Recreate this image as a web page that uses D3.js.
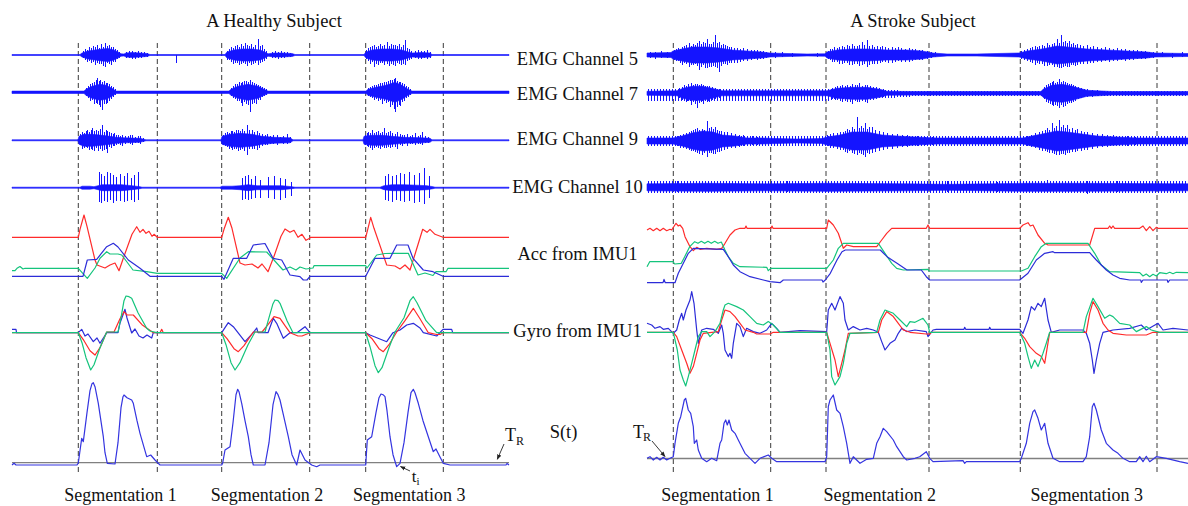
<!DOCTYPE html>
<html><head><meta charset="utf-8">
<script src="https://cdn.jsdelivr.net/npm/d3@7"></script>
<style>
body{margin:0;background:#fff;}
svg{display:block;}
text{font-family:"Liberation Serif","Times New Roman",serif;fill:#111;}
</style>
</head><body>
<svg id="c" width="1188" height="506"></svg>
<script>
// ---------------- DATA (x in samples, y in signal units) ----------------
const titles = ["A Healthy Subject", "A Stroke Subject"];
const channelLabels = ["EMG Channel 5","EMG Channel 7","EMG Channel 9","EMG Channel 10","Acc from IMU1","Gyro from IMU1","S(t)"];
const segLabels = ["Segmentation 1","Segmentation 2","Segmentation 3"];

const leftBounds  = [66.3,145.3,209.7,297.7,353.7,431.3];
const rightBounds = [26.3,123.7,179,282,373.3,510];
const leftSegCenters  = [108.5,255,397.3];
const rightSegCenters = [70.5,232.8,439.7];

// EMG envelopes: [sample, half-amplitude]; spikes: [sample, up, down]; halo: [sample, up, down]
const leftEmg5  = [[0,0.5],[68,0.5],[70,2],[76,4],[83,5],[90,6],[96,6.5],[102,5],[106,3],[109,1.2],[112,1],[114,2],[120,2.5],[128,2],[135,1.5],[138,0.5],[213,0.5],[215,3],[222,5],[230,6],[240,6],[248,5],[253,3],[256,1.2],[262,2],[270,2],[280,1.5],[283,0.5],[352,0.5],[354,3],[360,5],[370,6],[380,6],[390,5],[396,3],[400,2],[410,2.5],[418,2],[420,0.5],[497,0.5]];
const leftEmg5Sp = [[71,4,3],[73,6,5],[75,5,7],[77,8,6],[79,7,8],[81,9,7],[83,8,10],[85,10,8],[87,7,9],[89,11,9],[91,8,11],[93,12,12],[95,9,8],[97,10,9],[99,8,10],[101,8,7],[103,6,7],[105,5,4],[107,3,3],[114,3,3],[117,4,3],[120,4,4],[123,3,4],[126,4,3],[129,3,3],[132,3,2],[135,2,2],[164.7,0,7.7],[215,4,5],[217,6,5],[219,8,7],[221,7,9],[223,9,8],[225,10,8],[227,8,10],[229,11,9],[231,9,8],[233,12,9],[235,10,11],[237,9,8],[239,11,10],[241,8,9],[243,10,8],[246,15.7,10],[248,9,8],[250,10,7],[252,6,6],[254,4,4],[260,3,3],[263,4,3],[266,3,4],[269,4,3],[272,3,3],[275,3,2],[278,2,2],[354,5,4],[356,7,6],[358,8,9],[360,9,7],[362,10,12],[364,8,9],[366,9,10],[368,11,8],[370,9,8],[372,10,10],[375,13,9],[377,9,11],[379,11,9],[381,10,10],[383,10,11],[385,9,8],[387,11,9],[389,8,10],[391,10,9],[393,15,10],[395,7,6],[397,6,5],[399,4,4],[403,4,3],[406,5,4],[409,4,4],[412,4,3],[415,5,4],[418,3,3]];
const leftEmg7  = [[0,1.2],[72,1.2],[74,3],[80,6],[88,8],[94,7],[100,4],[104,1.2],[217,1.2],[219,3],[226,6],[236,8],[246,6],[252,3],[256,1.2],[354,1.2],[356,3],[364,5],[374,7],[383,10],[390,7],[396,3],[400,1.2],[497,1.2]];
const leftEmg7Sp = [[74,4,4],[76,6,6],[78,8,9],[80,9,8],[82,10,12],[84,12,11],[85,14,12],[87,11,13],[88,12,15],[90,10,17.7],[92,11,12],[94,9,12],[95,9,11],[97,8,9],[99,6,7],[101,5,5],[103,3,3],[219,4,4],[221,6,6],[223,8,7],[225,8,9],[227,10,9],[229,9,11],[230,10,14],[232,11,10],[234,11,12],[236,10,13],[238,12,19.4],[240,10,12],[242,9,11],[244,8,12],[246,7,8],[248,6,8],[250,5,5],[252,4,4],[254,3,3],[356,4,4],[358,5,5],[360,6,6],[362,7,8],[364,7,7],[366,8,9],[368,9,8],[370,9,12],[372,10,9],[374,10,11],[376,11,10],[378,12,15],[380,12,13],[382,13,17],[383,14,19.4],[385,11,15],[387,10,13],[388,10,14],[390,9,10],[392,8,9],[394,6,6],[396,5,5],[398,3,3]];
const leftEmg9  = [[0,0.5],[66,0.5],[67,4],[72,6],[80,6],[90,5],[98,4],[104,3],[112,2.5],[128,2],[134,0.5],[209,0.5],[210,4],[218,6],[228,7],[240,6],[250,4],[262,3],[278,2.5],[281,0.5],[351,0.5],[352,4],[360,5],[370,5],[380,4],[392,3],[410,2.5],[418,2],[420,0.5],[497,0.5]];
const leftEmg9Sp = [[68,6,5],[70,8,9],[72,7,8],[74,9,7],[75,10,8],[77,8,10],[79,10,9],[80,12,10],[82,9,11],[84,10,8],[86,9,11],[88,11,9],[90,15.3,11],[92,8,10],[94,10,9],[95,9,13],[97,8,7],[99,7,8],[101,6,6],[102,7,6],[104,5,5],[106,5,4],[108,4,5],[110,5,6],[113,4,4],[116,4,3],[118,5,4],[120,5,5],[123,3,3],[126,4,3],[128,4,4],[131,2,2],[211,5,5],[213,7,6],[215,8,7],[217,7,9],[219,9,8],[220,9,10],[222,8,9],[224,10,9],[226,10,11],[228,9,10],[230,11,9],[232,9,11],[235,15.3,14.7],[237,10,9],[240,10,9],[242,8,9],[245,9,10],[247,7,8],[250,6,6],[253,5,5],[255,6,5],[258,4,4],[261,5,4],[265,5,5],[268,3,3],[271,4,4],[275,6,4],[278,3,3],[353,5,5],[355,7,6],[356,8,7],[358,7,8],[360,10,10],[362,7,8],[364,8,7],[366,9,8],[368,7,9],[370,8,7],[372,12,8],[374,7,8],[376,8,7],[378,9,8],[380,7,7],[383,6,7],[385,8,9],[388,6,5],[390,5,6],[392,5,4],[395,6,6],[398,4,4],[400,5,4],[403,7,5],[406,4,4],[408,5,4],[410,8,5],[413,4,3],[416,3,3]];
const leftEmg10 = [[0,0.5],[68,0.5],[70,1.5],[78,1.5],[82,1],[86,2],[90,3],[100,3],[110,3],[120,2],[128,1],[130,0.5],[208,0.5],[210,1.5],[220,1.5],[228,2],[236,3],[245,2],[255,2],[270,2],[280,1],[283,0.5],[368,0.5],[372,2],[380,3],[392,3],[405,2.5],[415,2],[421,1],[423,0.5],[497,0.5]];
const leftEmg10Sp = [[87,16,14],[89,14,15],[92,12,13],[95,16,14],[98,15,12],[101,13,15],[104,11,13],[108,14,13],[112,12,14],[115,15,13],[119,10,12],[122,13,14],[126,16,12],[230,10,12],[233,12,11],[236,13,12],[239,9,11],[243,12,10],[248,8,10],[256,11,10],[262,12,11],[268,10,12],[273,9,10],[279,6,8],[373,12,12],[376,14,13],[380,12,14],[384,13,12],[388,15,13],[392,14,14],[397,16,13],[402,13,15],[407,15,14],[412,20,16],[417,12,10]];

const rightEmg5  = [[0,2],[24,2.5],[26,4],[35,6],[45,8],[60,8],[72,7],[85,5],[100,4],[115,3],[123,2],[140,1.5],[160,1],[178,1.2],[180,3],[190,5],[205,6],[220,6],[240,5],[260,5],[275,4],[286,2],[300,1],[330,1],[350,1.5],[372,2],[380,4],[395,6],[410,9],[420,8],[440,6],[460,5],[480,4],[500,3],[508,2],[541,1.5]];
const rightEmg5Sp = [[3,3,3],[8,3,4],[14,4,3],[20,3,3],[27,5,5],[29,6,6],[31,7,6],[33,6,8],[35,8,10],[37,9,8],[39,10,9],[42,12,12],[44,9,10],[46,11,10],[48,10,9],[50,12,11],[52,14,15],[54,11,12],[56,13,10],[58,12,13],[60,16,13],[62,11,12],[64,11,12],[66,13,11],[68,20,12],[70,12,13],[72,13,16.7],[74,10,11],[76,11,9],[78,10,9],[80,9,10],[82,8,8],[84,8,8],[87,7,8],[90,7,8],[93,6,7],[96,7,6],[100,6,6],[104,5,5],[107,5,4],[110,5,5],[113,4,4],[116,4,4],[119,3,3],[128,3,3],[135,3,2],[145,2,2],[170,2,2],[181,4,4],[183,6,5],[185,6,7],[187,8,7],[190,7,7],[192,8,9],[195,9,9],[197,8,8],[200,10,8],[202,9,10],[205,11,10],[207,9,9],[210,9,9],[212,10,11],[215,13,10],[217,10,9],[220,15,11.7],[222,9,10],[225,10,9],[227,8,9],[230,9,9],[233,8,8],[235,9,7],[238,8,7],[241,7,8],[245,8,8],[248,7,7],[251,8,6],[254,7,7],[258,6,7],[262,7,7],[265,6,6],[268,6,5],[272,5,5],[275,5,5],[280,4,4],[284,3,3],[288,3,2],[374,4,4],[377,5,5],[380,6,6],[383,7,7],[385,8,8],[388,9,10],[390,8,8],[392,9,9],[395,10,9],[397,9,11],[400,12,11],[402,10,10],[405,11,10],[407,12,12],[410,16,12],[412,12,13],[414,20,13.3],[416,13,12],[418,14,11],[420,12,12],[422,14,12],[424,11,10],[426,12,10],[428,10,11],[430,11,10],[433,10,9],[436,9,9],[440,10,9],[443,8,8],[446,9,8],[450,8,7],[454,7,7],[458,8,6],[462,7,7],[466,6,6],[470,7,6],[474,6,5],[478,6,6],[482,5,5],[486,5,5],[490,5,4],[494,4,4],[498,4,4],[502,3,3],[506,3,3],[515,3,2],[525,2,3],[535,3,2]];
const rightEmg7  = [[0,2],[30,2.5],[36,5],[45,7],[55,7],[65,5],[75,2.5],[180,2.5],[190,5],[205,6],[220,6],[233,4],[240,2],[266,1.8],[394,1.8],[396,4],[405,8],[415,9],[425,7],[440,3],[465,1.8],[541,1.8]];
const rightEmg7Halo = [[0,4,8],[180,4,8],[186,4,6],[240,3,5],[266,2.5,3],[541,2.5,3]];
const rightEmg7Sp = [[32,5,5],[35,6,7],[37,8,8],[39,7,9],[41,9,8],[44,10,12],[46,8,9],[48,9,11],[50,9,15],[52,8,10],[54,9,9],[56,8,11],[58,7,8],[60,7,9],[62,7,9],[65,6,7],[68,5,6],[72,4,5],[185,5,6],[188,6,7],[190,7,7],[193,7,8],[195,8,9],[198,7,8],[200,8,9],[203,7,9],[205,9,11],[208,8,8],[210,8,9],[212,10,9],[215,7,8],[218,8,9],[220,8,10],[223,7,7],[226,6,7],[229,6,6],[232,5,5],[236,4,4],[397,6,6],[399,8,9],[401,9,10],[403,10,11],[405,11,12],[406,12,13],[408,10,12],[410,11,13],[412,14,15],[414,11,12],[416,12,14],[418,11,13],[420,10,11],[422,9,10],[424,9,10],[426,8,9],[428,7,8],[431,6,6],[434,5,5],[437,4,4],[440,4,4],[445,3,4],[450,3,3]];
const rightEmg9  = [[0,3],[26,3],[35,5],[45,8],[56,10],[66,9],[75,6],[88,5],[100,3],[115,3],[130,2.5],[150,2],[175,2.5],[180,4],[193,6],[205,9],[220,9],[235,6],[250,5],[268,4],[290,3],[376,3],[385,5],[400,8],[410,10],[420,9],[435,7],[450,5],[470,4],[490,3],[541,3]];
const rightEmg9Halo = [[0,5,5],[541,5,5]];
const rightEmg9Sp = [[30,5,5],[33,6,7],[36,7,7],[39,8,8],[42,9,9],[44,10,10],[46,11,10],[48,12,11],[50,13,12],[52,11,13],[55,12,14],[57,11,12],[60,20,15.7],[62,13,12],[64,14,12],[66,12,13],[68,14,13],[70,11,11],[72,10,11],[74,10,10],[77,9,9],[80,9,8],[84,8,7],[88,7,7],[92,6,6],[96,6,5],[100,5,5],[105,5,4],[110,4,4],[180,6,5],[183,7,7],[186,8,7],[190,8,8],[193,9,9],[196,9,9],[198,10,11],[200,12,12],[202,11,10],[205,14,12],[207,12,13],[210,24,14],[212,13,12],[214,15,13],[216,13,14],[218,18,15.7],[220,12,12],[222,14,13],[225,14,12],[228,11,11],[232,10,10],[236,9,9],[240,8,8],[245,7,8],[250,7,7],[255,6,6],[260,6,6],[265,5,5],[270,5,5],[278,4,4],[285,4,4],[380,5,5],[384,6,6],[388,8,7],[392,9,9],[395,10,10],[398,11,10],[400,13,11],[402,11,12],[405,18,12],[407,13,13],[409,15,14],[412,21,14],[414,14,13],[416,16,13],[418,13,14],[420,16,12],[422,12,12],[425,13,11],[428,11,11],[430,12,10],[434,10,10],[437,9,9],[440,9,9],[445,8,8],[450,7,7],[455,7,6],[460,6,6],[466,6,5],[472,5,5],[480,5,5],[488,4,4]];
const rightEmg10 = [[0,3.5],[60,4],[120,3.5],[180,4],[260,3.5],[300,3],[380,4],[430,4],[541,3.5]];
const rightEmg10Halo = [[0,6,6],[541,6,6]];
const rightEmg10Sp = [[30,6,5],[70,6,6],[100,6,6],[140,6,5],[160,6,5],[220,5,6],[250,6,6],[300,6,5],[350,5,5],[400,7,6],[440,6,7],[470,6,5],[520,5,6]];

// IMU accelerometer (3 axes) : [sample, value]
const leftAccRed = [[0,39],[66.3,39],[68,47],[72,61.3],[75,50],[83,16.3],[85,11.3],[93,8.3],[98,11.3],[103,13.3],[107,5.6],[112,20],[120,42],[124.7,49.6],[128,44],[131,47],[134,43],[137,45],[140,40],[142,42],[145.3,39],[209.7,39],[212,47],[216.3,59],[220,48],[228,13.3],[233,11.3],[240,12.3],[246,8.3],[250,12.3],[256,4.6],[262,20],[269,40],[273,47.3],[278,44],[282,46],[286,39],[290,42],[294,36],[297.7,38],[298,39],[353.7,39],[356,48],[358.7,59],[362,48],[374.7,11.3],[383,10.3],[388,7.3],[393,11.3],[398,6.3],[403,22],[410.7,47],[415,44],[418,47],[423,42],[431,39],[497,39]];
const leftAccGreen = [[0,5.6],[3,5.6],[5,8],[8,9.8],[11,7.3],[13,8],[66.3,8],[75.3,-2],[83,8.3],[88,18],[94.7,24.6],[98,22.3],[106,22.3],[109.7,21.3],[121,6.3],[134.7,4.6],[145.3,3],[209.7,3],[214.7,-2],[228,18.3],[236.3,24.6],[254.7,24.3],[271,6.3],[278,9.3],[284,6.3],[288,9.3],[294,7.3],[301,8.3],[302,10.6],[353.7,10.6],[355,8.3],[364.7,21.3],[373,22.8],[381,23],[396.3,23],[406,1.3],[413,3.3],[421,0.8],[424,4.6],[434,4.6],[436,8],[497,8]];
const leftAccBlue = [[0,0],[71,0],[75.3,16.3],[84.7,17],[94.7,29.6],[101.3,33],[106,29.3],[116.3,16.3],[128,8],[138,0],[209.7,0],[212,-3],[221.3,18],[234.7,18],[241.3,31.3],[253,32.8],[261,18],[269.7,16.3],[278,1.3],[288,-0.4],[291.3,-3.7],[295,-3.7],[298,0],[353.7,0],[363,18],[378,18],[384.7,31.3],[396,31.3],[401,18],[411.3,6.3],[421,4.6],[431,0],[497,0]];

const leftGyroRed = [[0,0],[66.3,0],[72,-8],[78,-18],[83,-22.3],[88,-15],[94.7,0.7],[102,0.7],[108,14],[112,21],[115,17.7],[121.3,17.7],[130,8],[141.3,0],[148,0],[149.7,3.4],[151.3,0],[209.7,0],[215,-6],[222,-16],[226.3,-19],[232,-13],[241.3,0.7],[250,0.7],[256,8],[262,16],[268,14.4],[273,7],[278,0],[286,-3.3],[290,-3.3],[298,0],[353.7,0],[360,-6],[367,-16],[371.3,-19],[377,-12],[384.7,0.7],[393,12],[401.3,24.4],[408,14],[416.3,0],[424.7,-1.8],[428,-1.8],[431,0],[497,0]];
const leftGyroGreen = [[0,0],[66.3,0],[70,-10],[74,-25],[78.7,-37.3],[82,-32],[88,-15],[94.7,0.7],[106,0.7],[109,15],[112,32],[114,36.7],[117,36],[119.7,34.4],[126,20],[134.7,4.4],[138,1.7],[144.7,0],[209.7,0],[214,-12],[219,-30],[223,-37.3],[228,-30],[236,-12],[243,0.7],[253,0.7],[257,15],[261,29],[263,32.7],[266,32],[268,29.4],[275,12],[281,0],[353.7,0],[358,-14],[363,-33],[366.3,-40],[370,-35],[377,-15],[383,0.7],[392,15],[398,32],[401.3,36],[405,30],[414,12],[424.7,0],[497,0]];
const leftGyroBlue = [[0,3.4],[4,3.4],[4.5,0],[66.3,0],[69.7,3.4],[73,-3.3],[76,-1.3],[81.3,-9],[85,-5.3],[88,-10.6],[94.7,0],[106,0],[108,9.7],[113,23.4],[115,14.7],[119.7,-0.3],[123,3.7],[127,-3.3],[131,-5.3],[135,-2.3],[139.7,-5.3],[141.3,0],[209.7,0],[216.3,10],[221.3,6],[233,-9],[241.3,0],[244.7,4.7],[246,0],[256,0],[261.3,14.4],[264.7,9.4],[271.3,-5.6],[278,0],[285,0],[293,6],[298,0],[353.7,0],[358,-2.3],[374.7,-9],[381,0],[388,2.7],[394.7,7.7],[401.3,9.4],[408,4.7],[411.3,0],[424.7,-3.3],[431,3.4],[439.7,3.4],[440.7,0],[497,0]];

const leftS = [[0,-2.3],[2,-0.6],[4,-2.3],[65,-2.3],[66.3,-0.3],[69.7,24.4],[71.3,21],[75,50],[78,72],[80,79],[81.3,80],[83,76],[86.3,59.4],[91.3,26],[93,10],[95.3,-0.6],[103,-1.3],[106,20],[109,55],[111,66],[112,67.7],[115,65],[119.7,62.7],[121.3,59.4],[125,42],[128,29.4],[134.7,6],[138.7,7.7],[143,2.7],[148,-2.3],[209.7,-2.3],[210.7,-0.3],[213,12.7],[218,16],[221,40],[224,68],[225.7,73.4],[227,71],[229.7,59.4],[233,42],[236.3,26],[239,8],[241.3,-2.3],[253,-2.3],[257,20],[261,58],[264,71],[266,68],[268,62.7],[272,45],[276.3,26],[280,8],[284.7,-2.3],[288,12.7],[293,2.7],[299.7,-2.3],[304.7,-4],[308,-2.3],[353.7,-2.3],[355.3,22.7],[359.7,26],[364,50],[367,65],[369,68.7],[371,68],[373,66],[375,52],[378,26],[381,8],[384.7,-4],[388,-0.6],[392,20],[396,50],[399,70],[401.3,73.4],[403,70],[406.3,59.4],[411,42],[416.3,26],[421.3,11],[424,13.7],[428,5.7],[431.3,-0.6],[438,-2.3],[494,-2.3],[495,-0.8],[497,-2.3]];

const rightAccRed = [[0,52.7],[3,54.4],[6.3,52],[9.7,54.4],[13,52],[16.3,54.4],[19.7,52],[23,53.4],[24.7,52.7],[29,59.4],[31.3,56.7],[33,57.7],[35.7,54.4],[38,46],[43,36],[46.3,32],[49.7,35.4],[53,33.4],[59.7,34.4],[69.7,33.4],[74.7,34.4],[78,39.4],[83,47.7],[88,52.7],[93,54.4],[98,54.4],[99,56.7],[100,54.4],[124,54.4],[125,56.7],[126,54.4],[179.7,54.4],[181.3,62.7],[186.3,57.7],[191.3,49.4],[194.7,39.4],[196.3,34.4],[199.7,37.7],[206.3,36],[229.7,36],[234.7,42.7],[239.7,49.4],[244.7,54.4],[279.3,54.4],[281,57.7],[282.7,54.4],[372.7,54.4],[376,57.7],[381,60],[383.3,56.7],[386,57.7],[391,47.7],[397.7,39.4],[401,37.7],[442.7,37.7],[447.7,54.4],[461,54.4],[462.7,56.7],[464.3,54.4],[466,56.7],[467.7,54.4],[492.7,54.4],[496,56.7],[499.3,52],[502.7,56],[506,52],[509.3,55.4],[511,54.4],[541,54.4]];
const rightAccGreen = [[0,16],[2.7,21],[26,21],[27.7,18.7],[34.3,19.4],[37.7,26],[42.7,36],[47.7,41],[51,39.4],[54.3,41.4],[57.7,39.4],[61,41.4],[64.3,39.4],[67.7,41.4],[71,39.4],[74.3,40.7],[78,32.7],[81.3,26],[86.3,19.4],[93,16],[119.7,15.4],[121.3,12],[123.7,14.4],[179.7,14.4],[186.3,22.7],[191.3,34.4],[196.3,39.4],[231.3,39.4],[238,29.4],[244.7,19.4],[249.7,14.4],[256.3,12.7],[281,13.4],[282,11.7],[374.3,11.7],[381,14.4],[387.7,26],[394.3,36],[399.3,39.4],[441,39.4],[447.7,29.4],[454.3,17.7],[462.7,11],[492.7,10],[496,6.7],[499.3,8.7],[502.7,6],[506,8.4],[509.3,6.7],[512.7,10],[519.3,9],[522.7,10.4],[526,9],[529.3,10.4],[541,10]];
const rightAccBlue = [[0,0],[16,0],[17,3.3],[18.3,0],[28,0],[31.3,9.4],[36.3,19.4],[41.3,29.4],[46.3,34.4],[76.3,33.4],[81.3,26],[86.3,17.7],[93,11],[103,6],[116.3,2.7],[123,1],[133,0],[136.3,2.7],[175,2.7],[176,0.7],[178.3,2.7],[183.3,9.4],[190,22.7],[195,31],[198.3,32.7],[233.3,32.7],[240,26],[250,19.4],[260,12.7],[274.3,12.7],[279.3,6],[282.7,2.7],[372.7,2.7],[381,9.4],[389.3,22.7],[397.7,29.4],[406,31],[407.7,30],[442.7,30],[449.3,22.7],[459.3,12.7],[466,7.7],[472.7,4.4],[482.7,2.7],[493.7,2.7],[494.3,0.3],[496,2.7],[520.3,2.7],[521,0.3],[522.7,2.7],[541,2.7]];

const rightGyroRed = [[0,0],[26.3,0],[29.7,-4.3],[34.7,-17.7],[39.7,-31],[43,-41],[46.3,-34.3],[49.7,-21],[53,-7.7],[56.3,-1],[71.3,0.7],[74.7,12.3],[78,22.3],[83,20.7],[88,15.7],[93,9],[98,2.3],[106.3,0],[109.7,-1.7],[123,-1.7],[126.3,0],[179.7,0],[183,-11],[188,-27.7],[191.3,-44.3],[194.7,-31],[198,-17.7],[201.3,-1],[231.3,0],[234.7,12.3],[239.7,20.7],[246.3,15.7],[251.3,9],[256.3,2.3],[263,0],[279.3,-1.7],[282.7,-1.7],[284.3,0],[372.7,0],[377.7,-6],[382.7,-14.3],[389.3,-21],[394.3,-24.3],[397.7,-31],[399.3,-21],[402.7,0],[439.3,0],[442.7,19],[446,30.7],[451,22.3],[456,9],[461,2.3],[466,-1],[479.3,-2.7],[499.3,-2.7],[506,0],[541,0]];
const rightGyroGreen = [[0,0],[26.3,0],[30.3,-17.7],[33,-37.7],[36.3,-47.7],[38.7,-53.7],[41.3,-44.3],[44.7,-31],[48,-17.7],[51.3,-4.3],[54.7,0.7],[59.7,0.7],[63,-4.3],[68,0.7],[73,9],[76.3,22.3],[78,27.3],[81.3,29],[89.7,25.7],[96.3,22.3],[103,15.7],[109.7,9],[116.3,7.3],[121.3,10.7],[126.3,7.3],[133,0],[179.7,0],[183,-17.7],[184.7,-44.3],[188,-52.7],[193,-44.3],[196.3,-31],[199.7,-11],[203,-1],[229.7,0],[233,12.3],[238,22.3],[246.3,19],[253,12.3],[259.7,5.7],[263,10.7],[268,10],[276,14],[281,7.3],[282.7,0],[372.7,0],[377.7,-11],[381,-24.3],[384.3,-36],[387.7,-27.7],[391,-34.3],[396,-21],[399.3,-11],[402.7,0],[436,0],[439.3,15.7],[446,34],[451,25.7],[457.7,14],[462.7,17.3],[466,15.7],[472.7,9],[482.7,7.3],[489.3,0.7],[499.3,5.7],[504.3,2.3],[512.7,0],[541,0]];
const rightGyroBlue = [[0,9],[4.7,7.3],[8,4],[13,5.7],[16.3,3],[21.3,4],[26.3,-1],[29.7,2.3],[32.3,12.3],[34.7,19],[36.3,12.3],[39,22.3],[43,32.3],[44.7,40.7],[47,29],[49.7,2.3],[51.3,-11],[54.7,2.3],[59.7,4],[66.3,3],[71.3,-1],[74.7,7.3],[76.3,-1],[78,-17.7],[81.3,-24.3],[83,-21],[84.7,-26],[86.3,-11],[89.7,9],[93,5.7],[96.3,-4.3],[99.7,4],[106.3,0.7],[113,-1],[119.7,2.3],[124.7,9],[129.7,4],[133,0],[153,1.7],[179.7,0.7],[181.3,22.3],[184.7,29],[188,22.3],[193,35.7],[196.3,29],[198,12.3],[201.3,2.3],[206.3,5.7],[213,2.3],[219.7,4],[226.3,2.3],[231.3,0],[234.7,-9.3],[238,-17.7],[243,-11],[248,-7.7],[251.3,-1],[254.7,4],[259.7,0.7],[268,2.3],[279.3,0.7],[281,-4.3],[286,2.3],[289.3,3],[317,3],[317.7,5],[318.7,3],[342,3],[342.7,5],[343.7,3],[372.7,3],[376,-1],[381,12.3],[384.3,25.7],[387.7,22.3],[391,29],[394.3,25.7],[397.7,34],[401,12.3],[404.3,0],[412.7,2.3],[436,2.3],[439.3,-1],[442.7,-11],[445.3,-27.7],[447,-41],[449.3,-27.7],[452.7,-11],[456,0],[466,2.3],[482.7,4],[494.3,7.3],[499.3,2.3],[511,9],[516,2.3],[526,4],[541,2.3]];

const rightS = [[0,0.2],[3,1.8],[6.3,-1.5],[9.7,1.2],[13,-1.5],[16.3,1.2],[19.7,-1.5],[23,0.2],[26.3,1.8],[28,15.2],[31.3,35.2],[33.7,41.8],[37.3,58.5],[38.7,60.2],[41.3,48.5],[43.7,45.2],[46.3,31.8],[47.3,15.2],[49.7,18.5],[51.3,8.5],[54.7,0.2],[59.7,-3.2],[64.7,0.2],[69.7,-2.2],[73,15.2],[74.7,18.5],[77,35.2],[78.7,38.5],[80.3,33.5],[82,38.5],[84.7,28.5],[88,25.2],[91.3,18.5],[94.7,11.8],[98,5.2],[103,0.2],[108,-4.8],[113,0.2],[121.3,3.5],[124.7,0.2],[129.7,-3.2],[178,-3.2],[179.7,1.8],[181.3,51.8],[183,58.5],[186.3,63.5],[189.7,48.5],[193,45.2],[196.3,31.8],[199.7,15.2],[203,-4.8],[206.3,1.8],[213,-4.8],[219.7,-0.8],[226.3,0.2],[229.7,15.2],[233,21.8],[236.3,30.2],[239.7,26.8],[246.3,18.5],[249.7,11.8],[256.3,1.8],[259.7,-1.5],[268,0.2],[272.7,1.8],[279.3,6.8],[282.7,0.2],[286,-3.2],[316,-2.2],[317.7,-4.8],[319.3,-3.2],[372.7,-3.2],[374.3,0.2],[379.3,15.2],[382.7,35.2],[386,46.8],[387.7,48.5],[391,40.2],[394.3,28.5],[397.7,35.2],[401,15.2],[406,0.2],[412.7,-3.2],[436,-3.2],[439.3,1.8],[442.7,21.8],[445.3,51.8],[447,55.2],[449.3,48.5],[454.3,28.5],[459.3,15.2],[466,8.5],[471,5.2],[476,0.2],[482.7,-3.2],[489.3,-3.2],[492.7,1.8],[496,-3.2],[499.3,2.2],[502.7,-3.2],[509.3,1.8],[519.3,0.2],[532.7,-3.2],[541,-4.8]];

// ---------------- LAYOUT ----------------
const svg = d3.select("#c");
const col = {emg:"#1414ff", red:"#ff2b2b", green:"#14c47c", blue:"#2c2cd8", s:"#3434e0", gray:"#808080", dash:"#3a3a3a"};

const defs = svg.append("defs");
const pat = defs.append("pattern").attr("id","hair").attr("patternUnits","userSpaceOnUse")
  .attr("width",3).attr("height",20);
pat.append("rect").attr("x",0).attr("y",0).attr("width",1).attr("height",20).attr("fill",col.emg);
defs.append("marker").attr("id","ah").attr("viewBox","0 0 10 10").attr("refX",9).attr("refY",5)
  .attr("markerWidth",6).attr("markerHeight",6).attr("orient","auto")
  .append("path").attr("d","M0,1 L10,5 L0,9 Z").attr("fill","#222");

const panels = [
  { x: d3.scaleLinear().domain([0,497]).range([12,509]),
    base: {e5:55,e7:92.3,e9:140.3,e10:187.7,acc:276.3,gyro:332.7,s:462.7},
    emg: [[leftEmg5,leftEmg5Sp,null],[leftEmg7,leftEmg7Sp,null],[leftEmg9,leftEmg9Sp,null],[leftEmg10,leftEmg10Sp,null]],
    acc: [leftAccRed,leftAccGreen,leftAccBlue], gyro:[leftGyroBlue,leftGyroRed,leftGyroGreen], s:leftS,
    bounds: leftBounds, seg: leftSegCenters, title: titles[0], titleX: 274, domainMax: 497 },
  { x: d3.scaleLinear().domain([0,541]).range([647,1188]),
    base: {e5:55,e7:93.3,e9:141,e10:187.3,acc:282.7,gyro:332.3,s:458.5},
    emg: [[rightEmg5,rightEmg5Sp,null],[rightEmg7,rightEmg7Sp,rightEmg7Halo],[rightEmg9,rightEmg9Sp,rightEmg9Halo],[rightEmg10,rightEmg10Sp,rightEmg10Halo]],
    acc: [rightAccRed,rightAccGreen,rightAccBlue], gyro:[rightGyroBlue,rightGyroRed,rightGyroGreen], s:rightS,
    bounds: rightBounds, seg: rightSegCenters, title: titles[1], titleX: 913, domainMax: 541 }
];

function yAt(base){ return d3.scaleLinear().domain([-100,100]).range([base+100, base-100]); }

function line(g, x, y, data, color, w){
  g.append("path").datum(data)
    .attr("d", d3.line().x(d=>x(d[0])).y(d=>y(d[1])))
    .attr("fill","none").attr("stroke",color).attr("stroke-width",w)
    .attr("stroke-linejoin","round");
}

panels.forEach(p => {
  const g = svg.append("g");
  const x = p.x;
  g.selectAll(null).data(p.bounds).join("line")
    .attr("x1",d=>x(d)).attr("x2",d=>x(d)).attr("y1",43).attr("y2",475)
    .attr("stroke",col.dash).attr("stroke-width",1).attr("stroke-dasharray","5,3");
  const keys = ["e5","e7","e9","e10"];
  p.emg.forEach((e,i) => {
    const y = yAt(p.base[keys[i]]);
    if (e[2]) {
      g.append("path").datum(e[2])
        .attr("d", d3.area().x(d=>x(d[0])).y0(d=>y(-d[2])).y1(d=>y(d[1])))
        .attr("fill","url(#hair)").attr("shape-rendering","crispEdges");
    }
    g.append("path").datum(e[0])
      .attr("d", d3.area().x(d=>x(d[0])).y0(d=>y(-d[1])).y1(d=>y(d[1])))
      .attr("fill",col.emg).attr("stroke",col.emg).attr("stroke-width",0.6);
    g.selectAll(null).data(e[1]).join("line")
      .attr("x1",d=>x(d[0])).attr("x2",d=>x(d[0]))
      .attr("y1",d=>y(d[1])).attr("y2",d=>y(-d[2]))
      .attr("stroke",col.emg).attr("stroke-width",1).attr("shape-rendering","crispEdges");
  });
  const ya = yAt(p.base.acc);
  line(g, x, ya, p.acc[0], col.red, 1.2);
  line(g, x, ya, p.acc[1], col.green, 1.2);
  line(g, x, ya, p.acc[2], col.blue, 1.2);
  const yg = yAt(p.base.gyro);
  line(g, x, yg, p.gyro[0], col.blue, 1.2);
  line(g, x, yg, p.gyro[1], col.red, 1.2);
  line(g, x, yg, p.gyro[2], col.green, 1.2);
  const ys = yAt(p.base.s);
  g.append("line").attr("x1",x(0)).attr("x2",x(p.domainMax)).attr("y1",ys(0)).attr("y2",ys(0))
    .attr("stroke",col.gray).attr("stroke-width",1.3);
  line(g, x, ys, p.s, col.s, 1.2);
  svg.append("text").attr("x",p.titleX).attr("y",27).attr("text-anchor","middle")
    .attr("font-size",18.5).text(p.title);
  svg.selectAll(null).data(p.seg).join("text")
    .attr("x",d=>x(d)).attr("y",501).attr("text-anchor","middle").attr("font-size",18)
    .text((d,i)=>segLabels[i]);
});

const labelY = [64.5,100,145,193,260,337,438];
const labelX = [577.5,577.5,577.5,577.5,577.5,577.5,563.5];
svg.selectAll(null).data(channelLabels).join("text")
  .attr("x",(d,i)=>labelX[i]).attr("y",(d,i)=>labelY[i]).attr("text-anchor","middle")
  .attr("font-size",18.5).text(d=>d);

function annot(p, textX, textY, main, sub, subDx, subDy, from, to){
  const x = p.x, y = yAt(p.base.s);
  const t = svg.append("text").attr("x",x(textX)).attr("y",y(textY)).attr("font-size",main==="t"?17:18);
  t.append("tspan").text(main);
  t.append("tspan").attr("font-size",main==="t"?11:12).attr("dx",subDx).attr("dy",subDy).text(sub);
  svg.append("line").attr("x1",x(from[0])).attr("y1",y(from[1])).attr("x2",x(to[0])).attr("y2",y(to[1]))
    .attr("stroke","#222").attr("stroke-width",0.9).attr("marker-end","url(#ah)");
}
annot(panels[0], 493, 21.7, "T", "R", 0, 4, [492,18.7], [485.3,3.4]);
annot(panels[0], 399.7, -19, "t", "i", 0, 3, [398,-8.3], [388.5,-3.8]);
annot(panels[1], -14, 20.5, "T", "R", -1, 3, [5,17.5], [18,2]);
</script>
</body></html>
